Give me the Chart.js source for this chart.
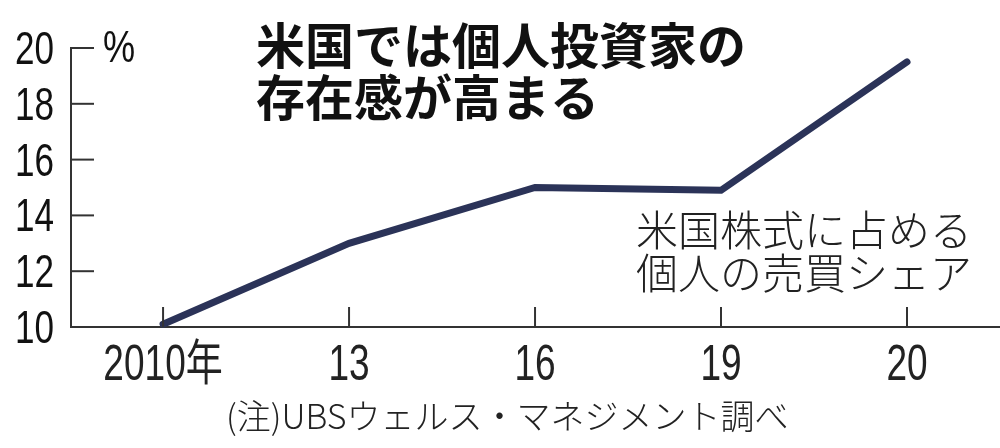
<!DOCTYPE html>
<html>
<head>
<meta charset="utf-8">
<script src="https://cdn.jsdelivr.net/npm/chart.js@4"></script>
<style>
  body { margin: 0; background: #fff; }
  canvas { display: block; }
</style>
</head>
<body>
<canvas id="chart" width="1000" height="448"></canvas>
<script>
const years = ['2010年', '13', '16', '19', '20']
const share = [10.1, 13.0, 15.0, 14.9, 19.5]
const yTicks = [10, 12, 14, 16, 18, 20]
const titleLines = ['米国では個人投資家の', '存在感が高まる']
const noteLines = ['米国株式に占める', '個人の売買シェア']
const source = '(注)UBSウェルス・マネジメント調べ'

const numFont = "'Liberation Sans', 'Noto Sans CJK JP', sans-serif"
const axisColor = '#333'

// pick size + horizontal squeeze so a sample string has the given ink height/width
function fitFont(c, sample, h, w) {
  c.font = '100px ' + numFont
  const m = c.measureText(sample)
  const ih = m.actualBoundingBoxAscent + m.actualBoundingBoxDescent
  const iw = m.actualBoundingBoxLeft + m.actualBoundingBoxRight
  const size = 100 * h / ih
  return { size, sq: w / (iw * size / 100) }
}

function narrowText(c, txt, x, y, align, f) {
  c.save()
  c.font = f.size + 'px ' + numFont
  c.translate(x, y)
  c.scale(f.sq, 1)
  c.textAlign = align
  c.fillText(txt, 0, 0)
  c.restore()
}

// inward tick marks, tick labels and the texts
const extras = {
  id: 'extras',
  afterDatasetsDraw(chart) {
    const c = chart.ctx
    const xs = chart.scales.x, ys = chart.scales.y
    c.save()
    c.strokeStyle = axisColor
    c.lineWidth = 2
    yTicks.forEach(v => {
      const y = ys.getPixelForValue(v)
      c.beginPath(); c.moveTo(xs.left, y); c.lineTo(xs.left + 23, y); c.stroke()
    })
    years.forEach((_, i) => {
      const x = xs.getPixelForValue(i)
      c.beginPath(); c.moveTo(x, ys.bottom); c.lineTo(x, ys.bottom - 20); c.stroke()
    })
    c.textBaseline = 'alphabetic'
    const fy = fitFont(c, '20', 33, 36)
    const fx = fitFont(c, '20', 35, 38)
    const fp = fitFont(c, '%', 32, 30)
    c.fillStyle = '#111'
    yTicks.forEach(v => narrowText(c, String(v), 54, ys.getPixelForValue(v) + 16, 'right', fy))
    c.fillStyle = '#222'
    years.forEach((t, i) => narrowText(c, t, xs.getPixelForValue(i), 380, 'center', fx))
    c.fillStyle = '#111'
    narrowText(c, '%', 103, 62, 'left', fp)
    c.textBaseline = 'middle'
    c.font = "bold 49px 'Noto Sans CJK JP', sans-serif"
    c.fillText(titleLines[0], 256, 45)
    c.fillText(titleLines[1], 256, 97)
    c.fillStyle = '#222'
    c.font = "300 42px 'Noto Sans CJK JP', sans-serif"
    c.fillText(noteLines[0], 636, 230)
    c.fillText(noteLines[1], 636, 273)
    c.font = "300 34px 'Noto Sans CJK JP', sans-serif"
    c.fillText(source, 226, 416)
    c.restore()
  }
}

new Chart(document.getElementById('chart'), {
  type: 'line',
  data: {
    datasets: [{
      data: share.map((v, i) => ({ x: i, y: v })),
      borderColor: '#2b3358',
      borderWidth: 7,
      borderCapStyle: 'round',
      borderJoinStyle: 'miter',
      pointRadius: 0,
      tension: 0,
      clip: false
    }]
  },
  options: {
    responsive: false,
    animation: false,
    layout: { padding: { top: 48, right: 0, left: 0, bottom: 0 } },
    plugins: { legend: { display: false }, tooltip: { enabled: false } },
    scales: {
      x: {
        type: 'linear',
        min: -0.495,
        max: 4.5,
        afterBuildTicks: s => { s.ticks = years.map((_, i) => ({ value: i })) },
        afterFit: s => { s.height = 121 },
        grid: { display: false },
        border: { display: true, color: axisColor, width: 2 },
        ticks: { display: false }
      },
      y: {
        min: 10,
        max: 20,
        afterBuildTicks: s => { s.ticks = yTicks.map(v => ({ value: v })) },
        afterFit: s => { s.width = 71 },
        grid: { display: false },
        border: { display: true, color: axisColor, width: 2 },
        ticks: { display: false }
      }
    }
  },
  plugins: [extras]
})
</script>
</body>
</html>
